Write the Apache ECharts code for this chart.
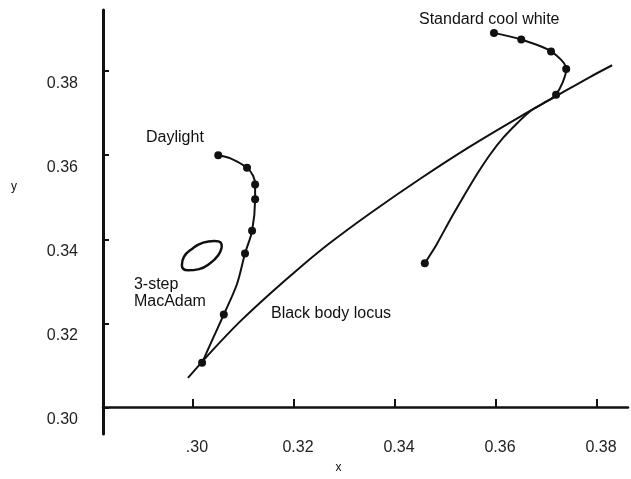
<!DOCTYPE html>
<html>
<head>
<meta charset="utf-8">
<script src="https://cdn.jsdelivr.net/npm/echarts@6/dist/echarts.min.js"></script>
<style>
  html, body { margin: 0; padding: 0; background: #fff; }
  #chart { width: 631px; height: 479px; }
</style>
</head>
<body>
<div id="chart"></div>
<script>
// Chromaticity coordinates (CIE x, y)
const xTicks = [0.30, 0.32, 0.34, 0.36, 0.38];
const xTickLabels = ['.30', '0.32', '0.34', '0.36', '0.38'];
const yTicks = [0.30, 0.32, 0.34, 0.36, 0.38];
const yTickLabels = ['0.30', '0.32', '0.34', '0.36', '0.38'];

// Black body (Planckian) locus
const locusX = [0.2990, 0.3038, 0.3093, 0.3153, 0.3212, 0.3271, 0.3351, 0.3450, 0.3549, 0.3648, 0.3727, 0.3786, 0.3830];
const locusY = [0.3070, 0.3135, 0.3204, 0.3271, 0.3333, 0.3391, 0.3462, 0.3544, 0.3621, 0.3692, 0.3746, 0.3786, 0.3814];

// Daylight source drift (1 = measured point drawn with a dot)
const daylightX = [0.3050, 0.3073, 0.3107, 0.3119, 0.3123, 0.3123, 0.3117, 0.3103, 0.3087, 0.3061, 0.3038, 0.3018];
const daylightY = [0.3600, 0.3593, 0.3570, 0.3551, 0.3530, 0.3495, 0.3420, 0.3366, 0.3293, 0.3221, 0.3160, 0.3106];
const daylightDot = [1, 0, 1, 0, 1, 1, 1, 1, 0, 1, 0, 1];

// Standard cool white fluorescent drift
const coolX = [0.3596, 0.3650, 0.3709, 0.3739, 0.3719, 0.3693, 0.3667, 0.3642, 0.3614, 0.3588, 0.3562, 0.3535, 0.3509, 0.3483, 0.3459];
const coolY = [0.3891, 0.3875, 0.3847, 0.3805, 0.3744, 0.3723, 0.3704, 0.3676, 0.3641, 0.3601, 0.3554, 0.3500, 0.3446, 0.3389, 0.3343];
const coolDot = [1, 1, 1, 1, 1, 0, 0, 0, 0, 0, 0, 0, 0, 0, 1];

// 3-step MacAdam ellipse outline
const ellipseX = [0.3057, 0.3050, 0.3034, 0.3012, 0.2990, 0.2978, 0.2982, 0.2998, 0.3020, 0.3042, 0.3055, 0.3057];
const ellipseY = [0.3381, 0.3362, 0.3343, 0.3329, 0.3326, 0.3338, 0.3358, 0.3377, 0.3392, 0.3396, 0.3392, 0.3381];

const FONT = '"Liberation Sans", Arial, sans-serif';
const INK = '#111';

function pts(xs, ys, dots) {
  return xs.map((x, i) => ({
    value: [x, ys[i]],
    symbol: dots && dots[i] ? 'circle' : 'none'
  }));
}

// Text note pinned to a data coordinate, left edge at the point
function note(text, x, y) {
  return {
    symbol: 'circle',
    symbolSize: 1,
    silent: true,
    itemStyle: { color: 'rgba(0,0,0,0)' },
    data: [{
      coord: [x, y],
      label: {
        show: true, position: 'inside', formatter: text,
        align: 'left', verticalAlign: 'middle',
        fontFamily: FONT, fontSize: 16, color: INK, lineHeight: 17
      }
    }]
  };
}

const lineBase = {
  type: 'line',
  smooth: 0.3,
  symbolSize: 8,
  lineStyle: { color: INK, width: 2 },
  itemStyle: { color: INK },
  animation: false
};

const chart = echarts.init(document.getElementById('chart'), null, { renderer: 'canvas' });
chart.setOption({
  backgroundColor: '#fff',
  animation: false,
  grid: { left: 103, right: 3, top: 10, bottom: 39, containLabel: false },
  xAxis: {
    type: 'value',
    min: 0.28218, max: 0.38614,
    offset: -27,
    name: 'x', nameLocation: 'middle', nameGap: 55,
    nameTextStyle: { fontFamily: FONT, fontSize: 12, color: INK, padding: [0, 54, 0, 0] },
    axisLine: { show: true, lineStyle: { color: INK, width: 2.5 } },
    axisTick: { show: true, inside: true, length: 8, customValues: xTicks, lineStyle: { color: INK, width: 2 } },
    axisLabel: {
      customValues: xTicks,
      formatter: v => xTickLabels[xTicks.findIndex(t => Math.abs(t - v) < 1e-6)],
      margin: 33, fontFamily: FONT, fontSize: 16, color: '#222', padding: [0, 0, 0, 8]
    },
    splitLine: { show: false }
  },
  yAxis: {
    type: 'value',
    min: 0.293666, max: 0.394545,
    axisLine: { show: true, lineStyle: { color: INK, width: 3 } },
    axisTick: { show: true, inside: true, length: 6, customValues: yTicks, lineStyle: { color: INK, width: 2 } },
    axisLabel: {
      customValues: yTicks,
      formatter: v => yTickLabels[yTicks.findIndex(t => Math.abs(t - v) < 1e-6)],
      margin: 25, fontFamily: FONT, fontSize: 16, color: '#222',
      verticalAlign: 'top', padding: [4, 0, 0, 0]
    },
    splitLine: { show: false }
  },
  graphic: [{
    type: 'text', left: 11, top: 181, silent: true,
    style: { text: 'y', fontFamily: FONT, fontSize: 12, fill: INK }
  }],
  series: [
    Object.assign({}, lineBase, {
      name: 'Black body locus',
      data: pts(locusX, locusY),
      markPoint: note('Black body locus', 0.31544, 0.32229)
    }),
    Object.assign({}, lineBase, {
      name: 'Daylight',
      data: pts(daylightX, daylightY, daylightDot),
      markPoint: note('Daylight', 0.2907, 0.3643)
    }),
    Object.assign({}, lineBase, {
      name: 'Standard cool white',
      data: pts(coolX, coolY, coolDot),
      markPoint: note('Standard cool white', 0.34475, 0.3922)
    }),
    Object.assign({}, lineBase, {
      name: '3-step MacAdam',
      smooth: 0.5,
      lineStyle: { color: INK, width: 2.5 },
      data: pts(ellipseX, ellipseY),
      markPoint: note('3-step\nMacAdam', 0.2883, 0.3273)
    })
  ]
});
</script>
</body>
</html>
